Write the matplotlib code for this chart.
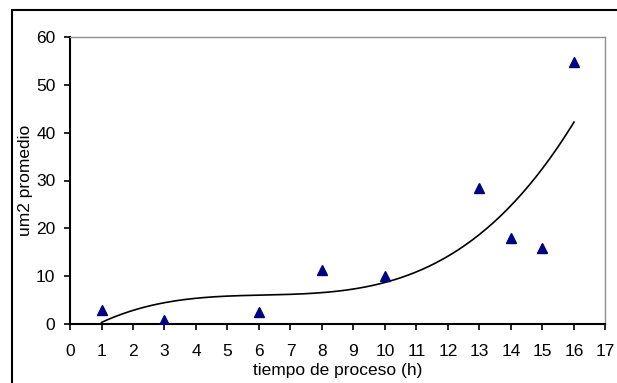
import numpy as np
import matplotlib.pyplot as plt
from matplotlib.patches import Rectangle

plt.rcParams["font.family"] = ["Liberation Sans", "DejaVu Sans"]

# data
horas = [1, 3, 6, 8, 10, 13, 14, 15, 16]
area = [2.9, 0.8, 2.5, 11.3, 10.0, 28.4, 17.9, 15.8, 54.7]
x_ticks = list(range(0, 18))
y_ticks = [0, 10, 20, 30, 40, 50, 60]

fig = plt.figure(figsize=(6.17, 3.83), dpi=100)
ax = fig.add_axes([70 / 617, 1 - 324 / 383, 535.5 / 617, 287 / 383])

# polynomial trend line (3rd order, like the spreadsheet)
coef = np.polyfit(horas, area, 3)
xs = np.linspace(min(horas), max(horas), 200)
ax.plot(xs, np.polyval(coef, xs), color="black", lw=1.2, zorder=2)

ax.plot(horas, area, linestyle="none", marker="^", color="#000080",
        markersize=6.5, zorder=3)

ax.set_xlim(0, 17)
ax.set_ylim(0, 60)
ax.set_xticks(x_ticks)
ax.set_yticks(y_ticks)
ax.tick_params(direction="out", length=4.5, width=1.2, labelsize=12.5)
ax.tick_params(axis="y", pad=6)
ax.tick_params(axis="x", pad=10)

for s in ["left", "bottom"]:
    ax.spines[s].set_color("black")
    ax.spines[s].set_linewidth(1.5)
for s in ["top", "right"]:
    ax.spines[s].set_color("#909090")
    ax.spines[s].set_linewidth(1.0)

ax.set_xlabel("tiempo de proceso (h)", fontsize=12.5, labelpad=3)
ax.set_ylabel("um2 promedio", fontsize=12.5, labelpad=2)

# outer chart border
fig.patches.append(Rectangle((12 / 617, -0.01), 1.02, 1 - 10 / 383 + 0.01,
                             transform=fig.transFigure, fill=False,
                             edgecolor="black", lw=1.5))

fig.savefig("out.png", dpi=100)
